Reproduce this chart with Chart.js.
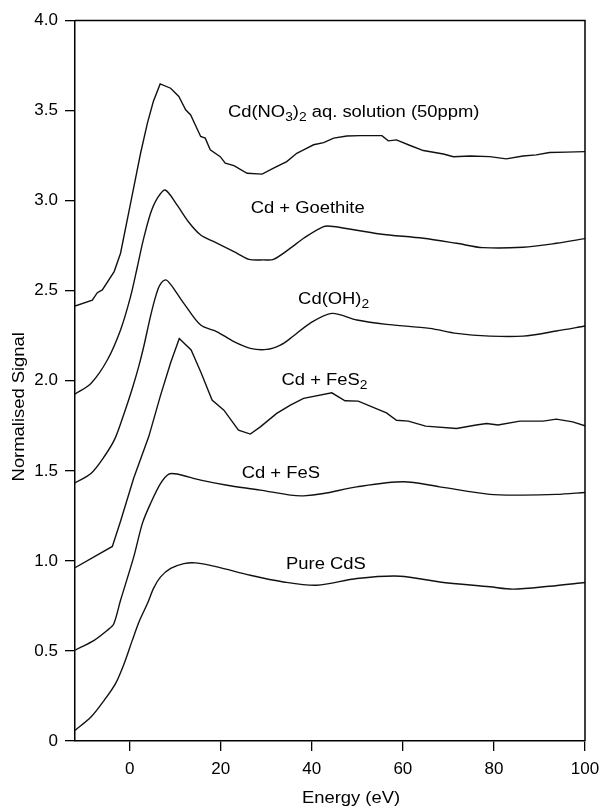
<!DOCTYPE html>
<html>
<head>
<meta charset="utf-8">
<title>Normalised Cd spectra</title>
<script src="https://cdn.jsdelivr.net/npm/chart.js@4.4.1/dist/chart.umd.min.js"></script>
<style>
  html, body { margin: 0; padding: 0; background: #fff; }
  #wrap { width: 604px; height: 808px; }
</style>
</head>
<body>
<div id="wrap"><canvas id="spectraChart" width="604" height="808"></canvas></div>
<script>
// Traces: energy (eV) and normalised signal
const no3Energy = [-12, -8.2, -7.1, -6, -3.4, -2, 0.2, 2.4, 3.9, 5.2, 6.7, 9, 10.8, 12.3, 13.4, 15.6, 16.6, 17.7, 19.9, 21, 22.9, 25.8, 29.1, 31.6, 34.5, 36.7, 38.2, 40.4, 42.6, 44.8, 47.7, 50.6, 55.4, 56.8, 58.6, 61.6, 64.5, 68.9, 71.1, 74.8, 79.1, 82.7, 86.4, 89.3, 92.2, 95.9, 100];
const no3Signal = [2.415, 2.448, 2.489, 2.504, 2.606, 2.708, 2.985, 3.263, 3.43, 3.55, 3.648, 3.624, 3.578, 3.504, 3.476, 3.356, 3.347, 3.282, 3.244, 3.208, 3.194, 3.152, 3.147, 3.18, 3.217, 3.263, 3.282, 3.31, 3.322, 3.347, 3.359, 3.361, 3.361, 3.332, 3.337, 3.306, 3.278, 3.259, 3.244, 3.248, 3.244, 3.232, 3.248, 3.254, 3.267, 3.269, 3.272];

const goethiteEnergy = [-12, -8.5, -4.9, -2, 0.2, 1.7, 3, 4.6, 6, 7.8, 10.4, 12.9, 15.6, 18.5, 22.9, 26.2, 29.4, 31.6, 35.3, 38.2, 42.6, 44.8, 55, 64.5, 71.8, 77.6, 86.4, 93.7, 100];
const goethiteSignal = [1.926, 1.985, 2.115, 2.282, 2.467, 2.633, 2.782, 2.93, 3.01, 3.059, 2.976, 2.883, 2.809, 2.772, 2.717, 2.674, 2.671, 2.674, 2.736, 2.791, 2.856, 2.856, 2.815, 2.791, 2.763, 2.739, 2.741, 2.763, 2.789];

const hydroxideEnergy = [-12, -8.5, -5.6, -3.2, -1.2, 0.5, 2, 3.1, 4.6, 5.7, 6.6, 7.9, 9, 10.4, 11.9, 15.6, 19.2, 22.9, 26.5, 30.1, 33.1, 35.3, 39.6, 44.4, 49.9, 56.4, 65.9, 71.8, 79.1, 86.4, 93.7, 100];
const hydroxideSignal = [1.433, 1.485, 1.578, 1.68, 1.82, 1.95, 2.08, 2.19, 2.36, 2.467, 2.53, 2.56, 2.535, 2.485, 2.43, 2.309, 2.272, 2.217, 2.18, 2.174, 2.198, 2.235, 2.319, 2.374, 2.337, 2.313, 2.291, 2.263, 2.248, 2.248, 2.276, 2.304];

const pyriteEnergy = [-12, -3.8, -2, 0.9, 4.2, 6.8, 9, 10.9, 13.5, 15.6, 18.1, 20.7, 23.9, 26.5, 28.7, 32.3, 35.3, 38.2, 44.4, 47.3, 50.2, 56.4, 58.6, 61.2, 65, 71.8, 76.1, 78.4, 80.9, 85.7, 90.8, 93.7, 97.3, 100];
const pyriteSignal = [0.962, 1.08, 1.22, 1.46, 1.69, 1.92, 2.1, 2.235, 2.171, 2.05, 1.893, 1.837, 1.726, 1.704, 1.744, 1.819, 1.865, 1.902, 1.933, 1.889, 1.887, 1.822, 1.781, 1.776, 1.748, 1.735, 1.754, 1.763, 1.754, 1.776, 1.776, 1.787, 1.772, 1.75];

const fesEnergy = [-12, -7.8, -4.9, -3.5, -2, 0.9, 2.8, 4.6, 6.8, 8.6, 10.4, 15.6, 21.4, 28.7, 35.3, 38.2, 42.6, 49.9, 60.1, 68.1, 79.1, 86.4, 93.7, 100];
const fesSignal = [0.504, 0.559, 0.615, 0.65, 0.781, 1.022, 1.208, 1.319, 1.43, 1.482, 1.482, 1.448, 1.42, 1.393, 1.365, 1.361, 1.374, 1.411, 1.439, 1.411, 1.369, 1.365, 1.369, 1.38];

const cdsEnergy = [-12, -8.5, -5.6, -3.1, -1.2, 0.6, 2.2, 3.9, 5.3, 6.8, 9, 11.9, 14.5, 19.2, 26.5, 33.8, 41.1, 49.9, 59.4, 68.1, 79.1, 84.2, 92.2, 100];
const cdsSignal = [0.059, 0.133, 0.226, 0.319, 0.43, 0.56, 0.67, 0.763, 0.85, 0.911, 0.958, 0.985, 0.989, 0.967, 0.92, 0.883, 0.865, 0.902, 0.915, 0.883, 0.856, 0.843, 0.859, 0.88];

const xTickValues = [0, 20, 40, 60, 80, 100];

// Trace labels: text pieces (sub = subscript) and where their centre sits, in data units
const traceLabels = [
    { parts: [['Cd(NO'], ['3', true], [')'], ['2', true], [' aq. solution (50ppm)']], x: 49.2, y: 3.498 },
    { parts: [['Cd + Goethite']], x: 39.1, y: 2.965 },
    { parts: [['Cd(OH)'], ['2', true]], x: 44.8, y: 2.459 },
    { parts: [['Cd + FeS'], ['2', true]], x: 42.8, y: 2.008 },
    { parts: [['Cd + FeS']], x: 33.2, y: 1.494 },
    { parts: [['Pure CdS']], x: 43.1, y: 0.989 },
];

const FONT_FAMILY = '"Liberation Sans", Arial, Helvetica, sans-serif';
const MAIN_FONT = '16px ' + FONT_FAMILY;
const SUB_FONT = '12px ' + FONT_FAMILY;
const TEXT_STRETCH = 1.15;

const toPoints = (xs, ys) => xs.map((x, i) => ({ x, y: ys[i] }));

const makeTrace = (xs, ys, tension) => ({
    data: toPoints(xs, ys),
    borderColor: '#111',
    borderWidth: 1.4,
    pointRadius: 0,
    showLine: true,
    fill: false,
    tension,
});

const drawParts = (ctx, parts, cx, cy, angle) => {
    ctx.save();
    ctx.translate(cx, cy);
    ctx.rotate(angle);
    ctx.scale(TEXT_STRETCH, 1);
    let width = 0;
    parts.forEach(([text, sub]) => {
        ctx.font = sub ? SUB_FONT : MAIN_FONT;
        width += ctx.measureText(text).width;
    });
    let x = -width / 2;
    ctx.fillStyle = '#000';
    ctx.textBaseline = 'alphabetic';
    parts.forEach(([text, sub]) => {
        ctx.font = sub ? SUB_FONT : MAIN_FONT;
        ctx.fillText(text, x, sub ? 10 : 6);
        x += ctx.measureText(text).width;
    });
    ctx.restore();
};

// Frame on top/right, axis titles and the trace labels
const annotations = {
    id: 'annotations',
    afterDraw(chart) {
        const { ctx, chartArea, scales } = chart;
        ctx.save();
        ctx.strokeStyle = '#000';
        ctx.lineWidth = 1.5;
        ctx.beginPath();
        ctx.moveTo(chartArea.left, chartArea.top);
        ctx.lineTo(chartArea.right, chartArea.top);
        ctx.lineTo(chartArea.right, chartArea.bottom);
        ctx.stroke();
        ctx.restore();

        traceLabels.forEach((label) => {
            drawParts(ctx, label.parts, scales.x.getPixelForValue(label.x), scales.y.getPixelForValue(label.y), 0);
        });

        const midY = (chartArea.top + chartArea.bottom) / 2;
        const midX = (chartArea.left + chartArea.right) / 2;
        drawParts(ctx, [['Normalised Signal']], chartArea.left - 57, midY + 26, -Math.PI / 2);
        drawParts(ctx, [['Energy (eV)']], midX + 21, chartArea.bottom + 56, 0);
    },
};

new Chart(document.getElementById('spectraChart'), {
    type: 'scatter',
    data: {
        datasets: [
            makeTrace(no3Energy, no3Signal, 0),
            makeTrace(goethiteEnergy, goethiteSignal, 0.3),
            makeTrace(hydroxideEnergy, hydroxideSignal, 0.3),
            makeTrace(pyriteEnergy, pyriteSignal, 0),
            makeTrace(fesEnergy, fesSignal, 0.3),
            makeTrace(cdsEnergy, cdsSignal, 0.3),
        ],
    },
    options: {
        responsive: false,
        devicePixelRatio: 1,
        animation: false,
        events: [],
        layout: { padding: { top: 20.5, right: 19, bottom: 0, left: 0 } },
        plugins: {
            legend: { display: false },
            tooltip: { enabled: false },
        },
        scales: {
            x: {
                type: 'linear',
                min: -12,
                max: 100,
                afterBuildTicks: (scale) => {
                    scale.ticks = xTickValues.map((value) => ({ value }));
                },
                afterFit: (scale) => {
                    scale.height = 67;
                    scale.paddingLeft = 0;
                    scale.paddingRight = 0;
                },
                ticks: {
                    color: '#000',
                    font: { family: FONT_FAMILY, size: 17 },
                    padding: 8,
                    maxRotation: 0,
                },
                grid: { drawOnChartArea: false, tickLength: 10, color: '#000', lineWidth: 1.3 },
                border: { color: '#000', width: 1.5 },
            },
            y: {
                min: 0,
                max: 4,
                afterFit: (scale) => {
                    scale.width = 75;
                    scale.paddingTop = 0;
                    scale.paddingBottom = 0;
                },
                ticks: {
                    stepSize: 0.5,
                    color: '#000',
                    font: { family: FONT_FAMILY, size: 17 },
                    padding: 7,
                    callback: (value) => (value === 0 ? '0' : value.toFixed(1)),
                },
                grid: { drawOnChartArea: false, tickLength: 10, color: '#000', lineWidth: 1.3 },
                border: { color: '#000', width: 1.5 },
            },
        },
    },
    plugins: [annotations],
});
</script>
</body>
</html>
